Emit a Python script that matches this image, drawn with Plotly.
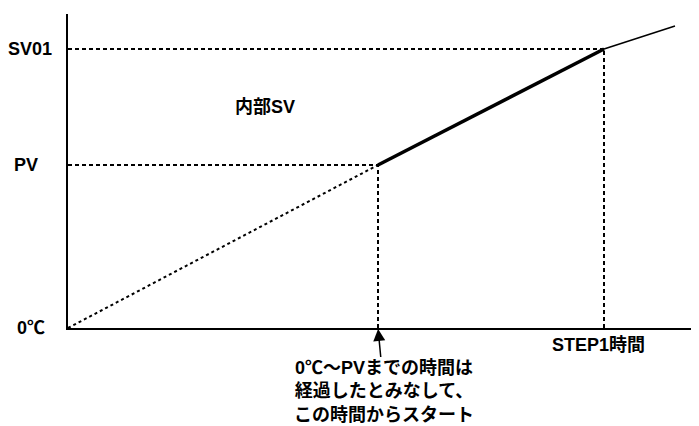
import plotly.graph_objects as go

# internal SV ramp: time (arbitrary units) vs setpoint (arbitrary units)
ramp_time = [0, 310, 536, 607]
ramp_sv = [0, 163, 279, 302]

level_labels = ['0℃', 'PV', 'SV01']
step_label = 'STEP1時間'
curve_label = '内部SV'
note_text = '0℃～PVまでの時間は<br>経過したとみなして、<br>この時間からスタート'

font_family = 'Liberation Sans, Arial, Noto Sans CJK JP'
black = '#000000'
label_font = dict(size=18, weight='bold')

t0, t_pv, t_step1, t_end = ramp_time
sv0, sv_pv, sv_01, sv_end = ramp_sv

fig = go.Figure()

# elapsed part (0 -> PV), dotted
fig.add_trace(go.Scatter(x=[t0, t_pv], y=[sv0, sv_pv], mode='lines',
                         line=dict(color=black, width=2, dash='3px,3px')))
# active ramp PV -> SV01
fig.add_trace(go.Scatter(x=[t_pv, t_step1], y=[sv_pv, sv_01], mode='lines',
                         line=dict(color=black, width=3.5)))
# continuation after STEP1
fig.add_trace(go.Scatter(x=[t_step1, t_end], y=[sv_01, sv_end], mode='lines',
                         line=dict(color=black, width=1.5)))

# guide lines
guides = [
    ([t0, t_pv], [sv_pv, sv_pv]),
    ([t0, t_step1], [sv_01, sv_01]),
    ([t_pv, t_pv], [sv0, sv_pv]),
    ([t_step1, t_step1], [sv0, sv_01]),
]
for gx, gy in guides:
    fig.add_trace(go.Scatter(x=gx, y=gy, mode='lines',
                             line=dict(color=black, width=2, dash='4px,3px')))

# level labels to the left of the y axis
for lab, yv, shift in zip(level_labels, [sv0, sv_pv, sv_01], [1, -4, 0]):
    fig.add_annotation(xref='paper', x=-38 / 631, y=yv, xshift=shift, text=lab,
                       showarrow=False, xanchor='center', yanchor='middle', font=label_font)

fig.add_annotation(x=t_step1, yref='paper', y=-17 / 314, xshift=-6, text=step_label,
                   showarrow=False, xanchor='center', yanchor='middle', font=label_font)
fig.add_annotation(x=197, y=221, text=curve_label, showarrow=False,
                   xanchor='center', yanchor='middle', font=label_font)

fig.add_annotation(x=t_pv, y=0, text=note_text, showarrow=True, align='center',
                   ax=6, ay=63, borderpad=0, arrowhead=2, arrowsize=1.6, arrowwidth=1.5,
                   arrowcolor=black, standoff=1, font=label_font)

# page body has an 8px margin, so the figure is 8px smaller each way
fig.update_layout(
    width=691, height=418,
    margin=dict(l=60, r=0, t=6, b=98),
    paper_bgcolor='white', plot_bgcolor='white',
    showlegend=False,
    font=dict(family=font_family, color=black),
)
fig.update_xaxes(range=[0, 631], showgrid=False, zeroline=False, showticklabels=False,
                 ticks='', showline=True, linecolor=black, linewidth=2)
fig.update_yaxes(range=[0, 314], showgrid=False, zeroline=False, showticklabels=False,
                 ticks='', showline=True, linecolor=black, linewidth=2)

fig.write_html('out.html')
